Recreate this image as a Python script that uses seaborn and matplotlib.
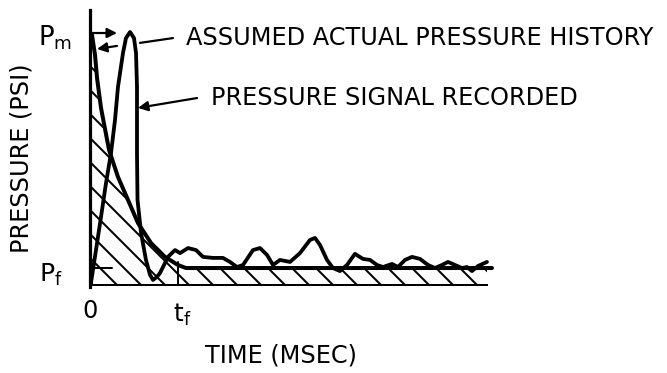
import matplotlib
matplotlib.use("Agg")
import matplotlib.pyplot as plt
import seaborn as sns
from matplotlib.patches import Rectangle

# time in units of t_f, pressure in units of P_m
actual_t = [0.0, 0.0, 0.023, 0.057, 0.080, 0.125, 0.216, 0.318, 0.432, 0.545,
            0.693, 0.852, 1.0, 1.091, 4.568]
actual_p = [0.0, 1.0, 0.988, 0.909, 0.818, 0.700, 0.534, 0.427, 0.336, 0.245,
            0.166, 0.111, 0.079, 0.067, 0.067]

recorded_t = [0.011, 0.068, 0.125, 0.182, 0.239, 0.284, 0.318, 0.375, 0.409, 0.455,
              0.500, 0.523, 0.534, 0.534, 0.534, 0.540, 0.580, 0.636, 0.682, 0.716,
              0.761, 0.795, 0.841, 0.886, 0.966, 1.023, 1.114, 1.205, 1.284, 1.398,
              1.511, 1.591, 1.670, 1.739, 1.852, 1.932, 2.011, 2.080, 2.159, 2.273,
              2.386, 2.500, 2.557, 2.614, 2.693, 2.761, 2.841, 2.920, 3.011, 3.102,
              3.182, 3.261, 3.330, 3.432, 3.500, 3.580, 3.659, 3.750, 3.841, 3.920,
              4.000, 4.068, 4.148, 4.227, 4.284, 4.341, 4.409, 4.511]
recorded_p = [0.008, 0.138, 0.269, 0.403, 0.522, 0.652, 0.783, 0.917, 0.976, 1.000,
              0.976, 0.917, 0.783, 0.652, 0.522, 0.336, 0.206, 0.099, 0.040, 0.020,
              0.032, 0.047, 0.079, 0.111, 0.138, 0.126, 0.146, 0.138, 0.111, 0.107,
              0.107, 0.091, 0.071, 0.079, 0.138, 0.146, 0.119, 0.079, 0.099, 0.091,
              0.126, 0.178, 0.186, 0.158, 0.099, 0.067, 0.055, 0.079, 0.123, 0.103,
              0.099, 0.079, 0.071, 0.083, 0.071, 0.099, 0.111, 0.103, 0.079, 0.067,
              0.079, 0.091, 0.079, 0.067, 0.071, 0.055, 0.075, 0.091]

P_F = 0.067
T_F = 1.0
HATCH_END = 4.511

sns.set_theme(style="white")
plt.rcParams["font.family"] = ["DejaVu Sans"]
plt.rcParams["text.color"] = "black"
plt.rcParams["hatch.linewidth"] = 1.0
plt.rcParams["hatch.color"] = "black"

DPI = 144
fig = plt.figure(figsize=(667 / DPI, 373 / DPI), dpi=DPI)
ax = fig.add_axes([90 / 667, 86 / 373, 412 / 667, 277 / 373])
ax.set_xlim(0, 4.682)
ax.set_ylim(-0.008, 1.087)

# hatched area under the assumed history
fill = ax.fill_between(actual_t, 0, actual_p, facecolor="none", edgecolor="black",
                       hatch="\\\\", linewidth=0)
fill.set_clip_path(Rectangle((0, 0), HATCH_END, 2, transform=ax.transData))

sns.lineplot(x=actual_t, y=actual_p, color="black", lw=2.0, ax=ax,
             sort=False, estimator=None, errorbar=None)
sns.lineplot(x=recorded_t, y=recorded_p, color="black", lw=1.9, ax=ax,
             sort=False, estimator=None, errorbar=None)

# P_f tick at left and t_f marker
ax.plot([0.023, 0.25], [P_F, P_F], color="black", lw=1.0)
ax.plot([T_F, T_F], [0, 0.091], color="black", lw=1.0)

for s in ["top", "right"]:
    ax.spines[s].set_visible(False)
ax.spines["left"].set_linewidth(1.6)
ax.spines["left"].set_color("black")
ax.spines["bottom"].set_linewidth(1.0)
ax.spines["bottom"].set_color("black")
ax.spines["bottom"].set_position(("data", 0))
ax.spines["bottom"].set_bounds(0, HATCH_END)
ax.set_xticks([])
ax.set_yticks([])

arrow = dict(arrowstyle="-|>", color="black", lw=1.1, mutation_scale=10,
             shrinkA=0, shrinkB=0)
ax.annotate("", xy=(0.307, 0.996), xytext=(0.023, 0.996), arrowprops=arrow)
ax.annotate("", xy=(0.08, 0.933), xytext=(0.307, 0.945), arrowprops=arrow)
ax.annotate("", xy=(0.545, 0.700), xytext=(1.216, 0.739), arrowprops=arrow)
ax.plot([0.568, 0.943], [0.957, 0.976], color="black", lw=1.1)

fs = 12
ax.text(1.09, 0.976, "ASSUMED ACTUAL PRESSURE HISTORY", ha="left", va="center",
        fontsize=fs)
ax.text(1.375, 0.739, "PRESSURE SIGNAL RECORDED", ha="left", va="center",
        fontsize=fs)

ax.text(-0.40, 0.976, r"$\mathregular{P_m}$", ha="center", va="center",
        fontsize=13, clip_on=False)
ax.text(-0.45, 0.04, r"$\mathregular{P_f}$", ha="center", va="center",
        fontsize=12.5, clip_on=False)
ax.text(0.0, -0.103, "0", ha="center", va="center", fontsize=fs, clip_on=False)
ax.text(T_F + 0.05, -0.12, r"$\mathregular{t_f}$", ha="center", va="center",
        fontsize=12.5, clip_on=False)

fig.text(281 / 667, 1 - 355 / 373, "TIME (MSEC)", ha="center", va="center",
         fontsize=fs)
fig.text(22 / 667, 1 - 158 / 373, "PRESSURE (PSI)", ha="center", va="center",
         rotation=90, fontsize=fs)

fig.savefig("out.png", dpi=DPI)
